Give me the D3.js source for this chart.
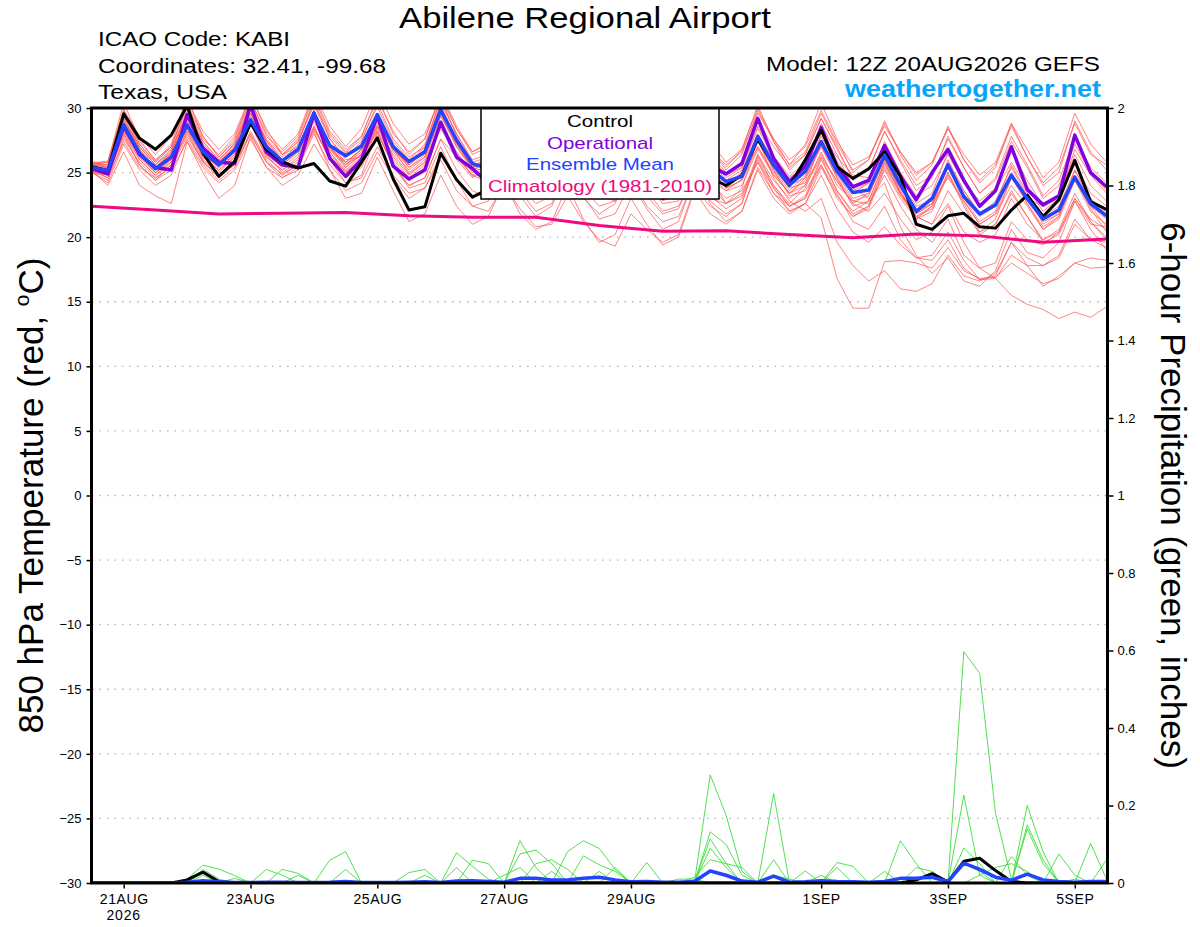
<!DOCTYPE html>
<html>
<head>
<meta charset="utf-8">
<script src="https://cdn.jsdelivr.net/npm/d3@7"></script>
<style>
  body { margin: 0; background: #fff; }
  text { font-family: "Liberation Sans", Arial, Helvetica, sans-serif; }
</style>
</head>
<body>
<div class="chart"></div>
<script>
// run start and 6-hourly steps (65 points = 16 days)
const runStart = "2026-08-20T12";
const stepHours = 6;

// x axis ticks
const tickDates = ["2026-08-21", "2026-08-23", "2026-08-25", "2026-08-27", "2026-08-29", "2026-09-01", "2026-09-03", "2026-09-05"];
const tickLabels = ["21AUG", "23AUG", "25AUG", "27AUG", "29AUG", "1SEP", "3SEP", "5SEP"];
const tempTicks = [-30, -25, -20, -15, -10, -5, 0, 5, 10, 15, 20, 25, 30];
const precipTicks = [0, 0.2, 0.4, 0.6, 0.8, 1, 1.2, 1.4, 1.6, 1.8, 2];

// 850 hPa temperature (C)
const controlTemp = [25.45,25.15,29.55,27.65, 26.8,27.9,30.2,26.5, 24.7,25.85,28.85,26.8, 25.85,25.35,25.7,24.35,
  23.95,25.8,27.7,24.5, 22.1,22.35,26.5,24.45, 23.1,23.7,26.5,24.8, 23.8,24.3,26.8,25.2,
  24.0,24.2,26.3,24.5, 23.0,23.6,26.0,24.6, 24.0,24.8,27.6,25.6, 24.0,26.0,28.3,25.45,
  24.55,25.3,26.6,24.7, 21.0,20.6,21.65,21.85, 20.8,20.7,22.1,23.25, 21.6,22.9,25.95,22.75, 22.15];
const operationalTemp = [25.3,24.9,28.6,26.4, 25.4,25.2,29.5,26.9, 25.8,25.7,30.3,26.6, 25.6,25.4,29.6,26.1,
  24.7,26.0,29.4,25.5, 24.5,25.2,28.9,26.2, 25.3,24.2,27.5,25.8, 24.8,25.3,27.8,26.5,
  25.0,25.2,27.4,25.9, 24.5,24.8,27.0,25.5, 24.9,25.7,29.2,26.1, 24.3,25.5,28.5,25.5,
  23.9,24.4,27.1,24.7, 22.9,25.0,26.8,24.4, 22.4,23.6,27.0,23.7, 22.5,23.2,27.9,25.0, 23.9];
const meanTemp = [25.4,25.15,28.7,26.5, 25.3,26.2,28.7,26.6, 25.6,26.75,29.1,27.0, 25.9,26.8,29.6,27.1,
  26.3,27.05,29.5,27.0, 25.85,26.6,29.85,27.5, 25.7,25.3,27.9,26.3, 25.0,25.6,27.9,26.4,
  25.1,25.4,27.6,26.0, 24.6,25.0,27.2,25.3, 24.3,24.7,27.8,25.6, 24.05,25.1,27.4,25.1,
  23.45,23.65,26.35,24.05, 22.0,23.0,25.6,23.15, 21.8,22.5,24.8,23.0, 21.4,22.1,24.65,22.6, 21.65];
// climatology, one value per day (12Z)
const climTemp = [22.4, 22.1, 21.8, 21.85, 21.9, 21.65, 21.55, 21.55, 20.9, 20.45, 20.5, 20.2, 19.95, 20.25, 20.1, 19.6, 19.85];

const memberTemps = [
  [25.8,25.6,29.4,27.0, 25.6,26.8,29.6,27.2, 25.9,27.3,30.2,27.5, 26.2,27.4,30.4,27.8, 26.5,27.6,30.1,27.4, 26.0,27.2,30.6,28.0, 25.8,26.2,28.6,26.9, 25.5,26.3,28.8,27.0, 25.6,26.0,28.3,26.6, 25.0,25.5,28.0,26.2, 24.8,25.4,28.6,26.3, 24.7,25.8,28.2,25.9, 24.0,24.5,27.2,25.0, 23.2,24.0,26.4,24.2, 22.5,23.6,25.8,23.8, 22.0,23.0,25.6,23.4, 22.4],
  [25.0,24.4,27.6,25.8, 24.6,25.4,27.8,25.9, 24.8,25.6,28.0,25.8, 24.9,25.6,28.4,26.2, 25.1,26.0,28.6,26.4, 24.9,25.8,28.4,26.5, 24.7,25.2,27.4,25.5, 24.0,24.6,27.0,25.2, 23.8,24.4,26.8,25.0, 23.5,24.0,26.5,24.8, 23.6,24.5,27.4,25.3, 23.8,24.2,26.4,24.3, 22.6,23.4,26.0,23.8, 22.0,22.6,24.6,22.8, 21.0,21.8,24.0,22.4, 20.6,21.4,24.4,22.0, 21.0],
  [25.6,25.8,30.4,27.6, 25.9,27.2,30.8,27.8, 26.2,27.6,31.0,28.2, 26.8,28.0,31.2,28.6, 27.0,28.4,31.4,28.8, 27.2,28.0,30.8,28.4, 26.6,27.4,29.8,27.6, 26.0,27.0,29.6,27.4, 25.8,26.8,29.4,27.0, 25.6,26.4,29.2,26.8, 25.4,26.8,30.2,27.4, 25.6,27.2,30.4,27.6, 25.0,26.0,29.0,26.4, 24.4,25.6,28.6,26.0, 24.2,25.4,28.8,26.2, 24.0,25.0,29.0,26.6, 25.2],
  [25.2,24.0,26.6,24.0, 23.2,22.6,27.4,25.0, 23.0,24.0,27.8,25.4, 24.6,25.2,28.6,26.0, 24.2,24.8,28.2,25.6, 23.8,24.2,27.0,24.4, 22.4,22.8,25.2,23.2, 21.6,22.4,25.0,23.0, 21.8,22.6,25.6,23.6, 22.0,22.4,24.8,22.6, 21.2,22.0,25.4,23.4, 22.4,23.0,26.0,23.6, 21.8,22.4,25.4,23.2, 21.6,22.2,24.8,22.6, 20.4,21.0,23.4,21.6, 19.6,20.2,22.8,20.6, 19.0],
  [25.4,25.0,28.6,26.4, 25.2,26.0,28.8,26.4, 25.4,26.6,29.2,26.8, 25.8,26.8,29.6,27.0, 25.6,26.4,29.0,26.8, 25.0,26.0,29.4,27.0, 25.2,25.8,28.2,26.2, 24.8,25.4,27.8,26.0, 24.6,25.0,27.4,25.6, 24.0,24.4,26.6,24.2, 23.0,23.6,25.8,23.4, 22.0,22.6,21.5,16.8, 14.5,14.5,18.1,18.2, 18.0,17.6,19.2,17.4, 16.8,16.9,18.0,17.2, 16.4,16.8,18.0,17.6, 17.7],
  [25.6,25.4,29.0,26.8, 25.4,26.4,29.2,26.8, 25.6,26.8,29.6,27.2, 26.0,27.0,29.8,27.2, 25.8,26.8,29.4,27.0, 25.4,26.4,29.8,27.4, 25.6,26.0,28.4,26.4, 25.0,25.6,28.0,26.2, 24.8,25.2,27.6,25.8, 24.2,24.8,27.2,25.4, 23.8,24.4,27.0,25.0, 23.4,24.0,26.2,24.4, 22.6,22.0,23.4,21.4, 19.8,20.4,22.4,19.6, 17.6,16.8,15.5,14.8, 14.4,13.7,14.2,13.8, 14.6],
  [25.0,24.8,28.0,25.6, 24.4,25.6,28.2,25.8, 24.8,26.0,28.8,26.2, 25.2,26.2,29.0,26.4, 25.0,26.0,28.6,26.0, 24.6,25.6,28.8,26.2, 24.8,25.4,27.8,25.8, 24.2,24.8,27.2,25.4, 23.8,24.6,27.0,25.0, 23.4,24.0,26.4,24.6, 22.6,23.4,25.8,23.8, 22.0,22.6,24.8,22.2, 20.4,19.6,20.8,19.4, 18.4,18.6,20.4,18.2, 16.7,17.0,19.6,17.8, 16.2,17.0,18.0,18.4, 18.2],
  [25.8,25.8,29.8,27.4, 26.0,27.0,30.2,27.6, 26.4,27.8,30.6,28.0, 26.4,27.6,30.8,28.0, 26.6,27.8,30.8,28.2, 26.4,27.6,31.0,28.4, 26.4,27.0,29.4,27.4, 26.0,26.8,29.4,27.4, 25.8,26.6,29.2,27.2, 25.6,26.6,29.4,27.4, 25.8,26.8,30.0,27.6, 25.6,26.6,29.6,27.2, 25.2,26.0,28.8,26.6, 24.8,25.8,28.4,26.0, 24.4,25.6,28.6,26.2, 24.2,25.4,28.8,26.4, 25.6],
  [25.2,24.6,28.2,26.0, 24.8,25.8,28.4,26.0, 25.0,26.2,29.0,26.4, 25.4,26.4,29.2,26.6, 25.2,26.2,28.8,26.2, 24.8,25.8,29.0,26.6, 25.0,25.6,28.0,26.0, 24.4,25.0,27.6,25.6, 24.0,24.6,27.2,25.4, 23.8,24.4,27.0,25.4, 23.8,24.8,27.6,25.2, 23.2,23.6,25.6,23.0, 21.6,22.2,25.2,23.0, 21.4,22.0,25.0,22.8, 21.0,21.8,24.6,22.6, 20.6,21.6,24.8,22.4, 20.8],
  [25.4,25.2,28.4,26.2, 25.0,26.0,28.6,26.2, 25.2,26.4,29.0,26.4, 25.0,25.8,28.2,25.2, 23.0,23.4,26.2,23.6, 21.2,21.8,24.8,22.4, 21.0,21.6,24.2,21.8, 20.6,21.2,24.0,21.4, 19.6,20.2,23.0,21.0, 19.4,20.0,23.6,21.8, 21.0,22.0,25.2,23.0, 21.8,22.6,25.4,23.2, 21.6,22.4,25.6,23.4, 21.8,22.6,25.4,23.0, 21.2,22.0,25.0,22.6, 20.8,21.6,24.6,22.2, 20.4],
  [25.6,25.2,28.8,26.6, 25.4,26.6,29.4,27.0, 25.8,27.0,29.8,27.2, 25.8,26.8,29.6,27.0, 25.4,26.4,29.4,26.8, 25.6,26.8,30.0,27.2, 25.4,26.0,28.6,26.6, 25.2,25.8,28.4,26.6, 25.0,25.6,28.2,26.4, 24.6,25.4,28.0,26.2, 24.6,25.4,28.4,26.2, 24.2,25.0,27.8,25.6, 23.4,24.2,27.4,25.0, 22.6,23.4,26.6,24.2, 22.8,23.8,26.6,24.4, 22.4,23.2,26.4,24.0, 22.8],
  [25.4,25.0,28.4,26.2, 25.0,25.8,28.6,26.2, 25.2,26.2,28.8,26.2, 25.2,26.0,28.6,26.0, 24.8,25.6,28.4,25.8, 24.4,25.4,28.6,26.0, 24.6,25.2,27.6,25.4, 23.8,24.4,27.0,25.0, 23.4,24.0,26.6,24.6, 22.8,23.4,26.2,24.0, 22.6,23.2,26.4,24.0, 22.4,23.0,25.6,23.4, 21.2,20.6,22.4,19.8, 18.4,18.2,19.8,17.6, 16.7,16.8,18.6,17.8, 17.8,18.4,21.0,19.8, 19.6],
  [25.8,25.4,29.6,27.2, 25.8,27.0,30.4,27.8, 26.2,27.4,30.6,27.8, 26.6,27.8,31.0,28.2, 26.8,27.8,30.8,28.0, 26.6,27.6,31.2,28.6, 26.6,27.2,29.8,27.8, 26.2,27.0,29.8,27.8, 26.0,26.8,29.4,27.2, 25.4,26.2,28.8,26.8, 25.2,26.4,29.8,27.4, 25.2,26.4,29.2,27.0, 24.4,25.2,28.2,25.8, 23.6,24.6,27.8,25.4, 23.4,24.6,27.8,25.6, 23.2,24.4,27.6,25.4, 24.2],
  [25.2,24.8,27.8,25.6, 24.4,25.2,27.4,25.4, 24.2,25.2,27.6,25.4, 24.0,24.8,27.2,25.2, 23.6,24.2,26.6,24.6, 23.0,23.8,26.4,24.4, 23.2,23.8,26.0,24.0, 22.6,23.2,25.6,23.8, 22.4,22.8,25.2,23.2, 21.8,22.2,25.0,23.2, 22.2,23.0,26.0,23.8, 22.4,23.2,26.2,23.6, 22.0,22.8,25.8,23.4, 21.6,21.0,22.6,20.4, 19.6,20.2,23.0,21.0, 19.8,20.6,23.4,21.2, 19.8],
  [25.3,25.0,28.2,26.4, 25.0,26.0,28.4,26.4, 25.4,26.4,28.8,26.8, 25.6,26.6,29.2,26.8, 25.8,26.8,29.2,26.8, 25.4,26.2,29.4,27.2, 25.4,25.0,27.6,26.0, 24.8,25.4,27.8,26.2, 24.8,25.2,27.4,25.8, 24.4,24.8,27.0,25.0, 23.8,24.4,27.4,25.2, 23.6,24.8,27.0,24.8, 23.0,23.4,26.2,23.8, 21.8,22.6,25.4,23.0, 21.6,22.4,24.6,22.8, 21.2,21.8,24.4,22.4, 21.4],
  [25.6,25.4,29.2,26.8, 25.2,26.6,29.8,27.0, 25.8,27.0,30.4,27.4, 26.0,27.2,30.6,27.6, 26.2,27.4,30.4,27.6, 26.2,27.0,30.8,27.8, 25.6,25.8,28.2,26.4, 25.2,26.0,28.6,26.8, 25.4,25.8,28.4,26.4, 24.6,25.2,27.8,25.8, 24.2,24.6,27.0,24.8, 23.4,24.4,27.2,24.6, 22.4,22.8,25.8,23.4, 21.4,22.4,26.0,23.6, 21.8,22.8,25.4,23.2, 21.0,21.8,25.2,22.8, 22.0],
  [25.2,24.8,28.0,26.0, 24.8,25.6,28.0,25.8, 24.6,25.6,28.2,26.0, 24.8,25.6,28.4,26.0, 24.6,25.4,28.0,25.6, 24.0,24.6,27.6,25.2, 23.6,23.0,25.8,23.6, 22.0,22.6,25.2,23.2, 21.4,21.8,24.2,22.2, 20.6,21.2,24.6,22.8, 21.8,22.6,26.2,24.0, 22.6,23.8,26.6,24.0, 22.8,23.2,26.0,23.6, 21.6,22.4,25.0,22.4, 20.2,21.0,23.6,21.6, 19.8,20.4,23.0,21.2, 20.0],
  [25.6,25.6,29.6,27.2, 25.8,27.0,30.0,27.4, 26.0,27.2,30.0,27.2, 25.8,26.8,29.8,27.0, 25.6,26.8,29.6,27.2, 25.8,26.8,30.2,27.6, 25.6,25.6,28.4,26.8, 25.6,26.0,28.4,26.6, 25.2,25.6,28.0,26.2, 24.8,25.4,28.2,26.4, 25.0,25.8,29.0,27.0, 25.4,26.4,29.2,26.8, 24.6,25.2,28.2,26.0, 24.0,24.8,27.6,25.4, 23.4,24.4,27.4,25.4, 23.0,24.0,27.2,25.0, 23.6],
  [25.7,25.9,29.9,27.8, 26.4,27.8,30.6,28.2, 26.8,28.0,31.0,28.4, 26.4,27.0,29.4,26.6, 25.0,25.8,28.6,26.8, 25.6,26.6,29.6,27.4, 25.2,24.6,27.0,25.0, 23.6,24.0,26.4,24.8, 23.2,22.8,24.6,22.4, 21.2,21.6,24.4,23.0, 22.6,23.8,27.6,25.6, 24.6,25.4,28.8,26.4, 23.8,23.0,24.2,20.8, 18.6,17.2,18.4,16.6, 16.2,17.4,20.6,18.8, 18.4,19.6,22.8,21.0, 20.8],
  [25.0,24.2,27.2,25.2, 24.0,24.8,27.6,25.6, 24.4,25.4,28.0,25.8, 24.6,25.4,28.0,25.6, 24.2,24.6,27.0,24.8, 23.4,23.8,26.0,23.6, 22.4,22.0,24.0,22.2, 20.8,21.0,23.2,21.2, 19.8,19.3,21.8,20.6, 19.6,20.2,23.8,22.4, 21.6,22.6,26.4,24.4, 23.0,24.0,27.4,25.0, 23.6,24.2,26.8,24.2, 22.4,22.8,25.8,23.6, 21.8,22.6,25.6,23.4, 21.6,22.4,25.2,23.0, 21.8],
  [25.5,25.3,28.8,26.6, 25.4,26.4,29.0,26.8, 25.6,26.8,29.4,27.0, 25.6,26.6,29.4,26.8, 25.4,26.4,29.2,26.6, 25.2,26.2,29.6,27.0, 25.4,25.6,28.0,26.2, 24.8,25.6,28.4,26.6, 25.0,25.4,27.8,26.0, 24.4,25.0,27.4,25.6, 24.2,25.0,27.6,24.6, 22.8,22.0,23.0,19.6, 17.8,16.6,17.4,16.0, 15.8,16.4,18.6,17.0, 16.6,17.2,19.6,18.4, 17.8,18.6,21.4,19.8, 19.2],
  [25.4,25.4,29.0,27.0, 25.6,26.8,29.6,27.4, 26.0,27.2,29.8,27.4, 26.0,26.8,29.6,27.0, 25.6,26.6,29.4,27.0, 25.8,27.0,30.4,28.0, 26.0,26.4,28.8,27.0, 25.8,26.6,29.0,27.0, 25.6,26.2,28.8,26.8, 25.4,26.0,28.6,26.8, 25.6,26.6,29.6,27.6, 26.0,27.0,29.8,27.4, 25.6,26.2,28.6,26.6, 25.0,25.8,28.4,26.4, 24.8,25.8,28.8,26.8, 24.6,25.8,29.6,27.2, 25.8],
  [25.1,24.6,27.4,25.4, 24.6,25.4,28.2,26.4, 25.6,26.6,29.6,27.6, 26.4,27.4,30.2,27.6, 26.0,26.2,28.2,25.4, 24.0,24.6,27.6,26.2, 24.8,24.2,26.6,24.6, 23.6,24.2,26.8,25.4, 24.4,24.8,26.6,24.2, 22.6,22.8,25.8,24.4, 23.6,24.0,26.8,24.8, 23.4,24.6,28.0,26.2, 24.8,24.6,26.4,23.4, 21.6,21.0,23.6,21.8, 20.4,21.4,24.6,23.0, 22.4,23.0,26.8,24.8, 23.4],
  [25.6,25.6,29.2,27.0, 25.6,26.6,29.4,27.0, 25.6,26.8,29.6,27.2, 25.8,26.8,29.8,27.2, 25.8,26.8,29.6,27.0, 25.6,26.6,30.0,27.4, 25.4,25.8,28.4,26.6, 25.0,25.8,28.4,26.6, 25.2,25.6,28.0,26.2, 24.6,25.2,27.8,26.0, 24.4,25.2,28.0,26.0, 24.0,24.6,27.0,24.6, 22.8,22.6,24.8,22.4, 20.6,19.6,21.4,18.6, 17.6,18.0,21.2,19.8, 19.4,20.4,23.0,21.4, 20.6]
];

// 6-hour precipitation (inches)
const controlPrecip = [0,0,0,0, 0,0,0.008,0.028, 0.004,0,0,0, 0,0,0,0, 0,0,0,0, 0,0,0,0, 0,0,0,0, 0,0,0,0,
  0,0,0,0, 0,0,0,0, 0,0,0,0, 0,0,0,0, 0,0,0,0, 0.008,0.024,0.003,0.056, 0.064,0.032,0.004,0, 0,0,0,0, 0];
const meanPrecip = [0,0,0,0, 0,0,0.002,0.006, 0.003,0.001,0.001,0.002, 0.002,0.001,0.001,0.002, 0.004,0.001,0.001,0.001,
  0.002,0.003,0.001,0.005, 0.006,0.004,0.002,0.012, 0.012,0.008,0.008,0.012, 0.015,0.008,0.003,0.004, 0.002,0.002,0.004,0.031,
  0.02,0.005,0.002,0.018, 0.002,0.003,0.006,0.004, 0.003,0.002,0.004,0.012, 0.012,0.015,0.004,0.051, 0.035,0.015,0.007,0.023,
  0.008,0.004,0.002,0.004, 0.004];
const memberPrecips = [
  [0,0,0,0, 0,0,0.01,0.046, 0.036,0.019,0,0, 0,0,0,0.059, 0.081,0,0,0, 0,0,0,0.078, 0.043,0.01,0,0, 0,0,0,0, 0,0,0,0, 0,0,0,0.279, 0.175,0.03,0,0, 0,0,0,0, 0,0,0,0, 0,0,0,0.597, 0.541,0.18,0.01,0, 0,0,0,0, 0],
  [0,0,0,0, 0,0,0,0.035, 0.01,0,0,0.035, 0.02,0,0,0, 0,0,0,0, 0,0,0,0, 0,0,0,0.109, 0.04,0,0,0, 0,0,0,0, 0,0,0,0.132, 0.1,0.02,0,0.231, 0,0,0,0, 0,0,0,0, 0,0,0,0.227, 0.02,0,0,0.2, 0.08,0,0,0, 0],
  [0,0,0,0, 0,0,0,0, 0,0,0,0, 0.035,0.025,0,0, 0.035,0,0,0, 0.027,0.035,0,0, 0,0,0,0.075, 0.085,0.05,0,0, 0,0,0,0, 0,0,0,0.114, 0.05,0,0,0, 0,0,0,0.053, 0.043,0,0,0, 0,0,0,0, 0,0,0,0.15, 0.06,0,0,0.102, 0.01],
  [0,0,0,0, 0,0,0,0.03, 0,0,0,0, 0,0,0,0, 0,0,0,0, 0,0.02,0,0, 0.059,0.05,0,0, 0,0,0.081,0.109, 0.089,0.035,0,0, 0,0,0,0.09, 0.04,0,0,0, 0,0,0,0, 0,0,0,0.109, 0.05,0,0,0.09, 0.05,0,0,0.14, 0.05,0,0,0, 0],
  [0,0,0,0, 0,0,0,0, 0,0,0,0, 0,0,0,0, 0,0,0,0, 0,0,0,0.04, 0,0,0,0, 0,0.03,0,0.07, 0.047,0.03,0,0.053, 0,0,0,0, 0,0,0,0.06, 0,0.031,0,0, 0,0,0.03,0, 0,0,0,0, 0,0,0.068,0.02, 0,0.075,0.02,0, 0],
  [0,0,0,0, 0,0,0,0, 0,0.012,0,0, 0,0.02,0,0, 0,0,0,0, 0,0,0,0, 0,0,0,0, 0.05,0.06,0.035,0, 0,0.04,0,0, 0,0,0.015,0.06, 0.05,0.04,0,0, 0,0,0,0.04, 0,0,0,0, 0.04,0.03,0,0, 0.02,0.04,0.05,0.03, 0,0,0,0, 0.06],
  [0,0,0,0, 0,0,0,0.02, 0,0,0,0, 0,0,0,0, 0,0,0,0, 0,0,0,0, 0,0,0.02,0.04, 0,0,0,0, 0.03,0,0,0, 0,0.01,0.01,0, 0,0,0,0.02, 0.01,0,0.02,0, 0,0,0,0, 0,0,0.01,0.05, 0.03,0,0,0, 0,0,0.01,0, 0]
];

// colours
const memberRed = "#ff5555";
const memberGreen = "#3ddc3d";
const controlColor = "#000000";
const operationalColor = "#8000e0";
const meanColor = "#2244ff";
const climColor = "#ee0a80";

const width = 1200, height = 927;
const plotLeft = 92, plotRight = 1107, plotTop = 108, plotBottom = 883;

const parseHour = d3.utcParse("%Y-%m-%dT%H");
const parseDay = d3.utcParse("%Y-%m-%d");
const t0 = parseHour(runStart);
const timeAt = (i) => d3.utcHour.offset(t0, i * stepHours);

const xScale = d3.scaleUtc()
  .domain([t0, timeAt(64)])
  .range([plotLeft, plotRight - 0.5]);
const yTemp = d3.scaleLinear().domain([-30, 30]).range([plotBottom, plotTop]);
const yPrecip = d3.scaleLinear().domain([0, 2]).range([plotBottom, plotTop]);

const svg = d3.select(".chart").append("svg")
  .attr("width", width)
  .attr("height", height)
  .style("background", "#fff");

svg.append("clipPath").attr("id", "plotClip")
  .append("rect")
  .attr("x", plotLeft).attr("y", plotTop)
  .attr("width", plotRight - plotLeft).attr("height", plotBottom - plotTop);

// dotted grid lines on the temperature ticks
svg.append("g")
  .selectAll("line")
  .data(tempTicks.filter(d => d > -30 && d < 30))
  .join("line")
  .attr("x1", plotLeft).attr("x2", plotRight)
  .attr("y1", d => yTemp(d)).attr("y2", d => yTemp(d))
  .attr("stroke", "#b4b4b4")
  .attr("stroke-width", 1.3)
  .attr("stroke-dasharray", "1.5,6");

const plot = svg.append("g").attr("clip-path", "url(#plotClip)");

const tempLine = d3.line().x((d, i) => xScale(timeAt(i))).y(d => yTemp(d));
const precipLine = d3.line().x((d, i) => xScale(timeAt(i))).y(d => yPrecip(d));
const climLine = d3.line().x((d, i) => xScale(timeAt(i * 4))).y(d => yTemp(d));

// ensemble members
plot.append("g").selectAll("path")
  .data(memberTemps)
  .join("path")
  .attr("d", tempLine)
  .attr("fill", "none")
  .attr("stroke", memberRed)
  .attr("stroke-opacity", 0.8)
  .attr("stroke-width", 0.9);

plot.append("g").selectAll("path")
  .data(memberPrecips)
  .join("path")
  .attr("d", precipLine)
  .attr("fill", "none")
  .attr("stroke", memberGreen)
  .attr("stroke-width", 0.9);

plot.append("path")
  .datum(climTemp)
  .attr("d", climLine)
  .attr("fill", "none")
  .attr("stroke", climColor)
  .attr("stroke-width", 3);

plot.append("path")
  .datum(operationalTemp)
  .attr("d", tempLine)
  .attr("fill", "none")
  .attr("stroke", operationalColor)
  .attr("stroke-width", 3.5)
  .attr("stroke-linejoin", "round");

plot.append("path")
  .datum(controlTemp)
  .attr("d", tempLine)
  .attr("fill", "none")
  .attr("stroke", controlColor)
  .attr("stroke-width", 3)
  .attr("stroke-linejoin", "round");

plot.append("path")
  .datum(meanTemp)
  .attr("d", tempLine)
  .attr("fill", "none")
  .attr("stroke", meanColor)
  .attr("stroke-width", 3.5)
  .attr("stroke-linejoin", "round");

plot.append("path")
  .datum(controlPrecip)
  .attr("d", precipLine)
  .attr("fill", "none")
  .attr("stroke", controlColor)
  .attr("stroke-width", 3)
  .attr("stroke-linejoin", "round");

plot.append("path")
  .datum(meanPrecip)
  .attr("d", precipLine)
  .attr("fill", "none")
  .attr("stroke", meanColor)
  .attr("stroke-width", 3.5)
  .attr("stroke-linejoin", "round");

// legend box
const legendItems = ["Control", "Operational", "Ensemble Mean", "Climatology (1981-2010)"];
const legendColors = [controlColor, operationalColor, meanColor, climColor];
const legendWidths = [66, 106, 148, 224];
const legend = svg.append("g");
legend.append("rect")
  .attr("x", 481).attr("y", plotTop)
  .attr("width", 238).attr("height", 91)
  .attr("fill", "#fff")
  .attr("stroke", "#000")
  .attr("stroke-width", 1.5);
legend.selectAll("text")
  .data(legendItems)
  .join("text")
  .attr("x", 600)
  .attr("y", (d, i) => 127 + i * 21.5)
  .attr("text-anchor", "middle")
  .attr("font-size", 17)
  .attr("textLength", (d, i) => legendWidths[i])
  .attr("lengthAdjust", "spacingAndGlyphs")
  .attr("fill", (d, i) => legendColors[i])
  .text(d => d);

// frame
svg.append("rect")
  .attr("x", plotLeft - 0.5).attr("y", plotTop)
  .attr("width", plotRight - plotLeft + 1).attr("height", plotBottom - plotTop)
  .attr("fill", "none")
  .attr("stroke", "#000")
  .attr("stroke-width", 3);

// axes
const leftAxis = svg.append("g")
  .attr("transform", `translate(${plotLeft - 1.5},0)`)
  .call(d3.axisLeft(yTemp).tickValues(tempTicks).tickSize(4).tickPadding(5).tickFormat(d3.format("d")));
const rightAxis = svg.append("g")
  .attr("transform", `translate(${plotRight + 1.5},0)`)
  .call(d3.axisRight(yPrecip).tickValues(precipTicks).tickSize(5).tickPadding(4).tickFormat(d3.format("~g")));
const bottomAxis = svg.append("g")
  .attr("transform", `translate(0,${plotBottom + 1.5})`)
  .call(d3.axisBottom(xScale)
    .tickValues(tickDates.map(parseDay))
    .tickSize(4).tickPadding(6)
    .tickFormat((d, i) => tickLabels[i]));

[leftAxis, rightAxis, bottomAxis].forEach(g => {
  g.select(".domain").remove();
  g.selectAll(".tick line").attr("stroke", "#000").attr("stroke-width", 1.5);
  g.selectAll(".tick text")
    .attr("fill", "#000")
    .style("font-family", '"Liberation Sans", Arial, sans-serif')
    .style("font-size", "13px");
});
bottomAxis.selectAll(".tick text").style("font-size", "14px").attr("letter-spacing", 0.6);

svg.append("text")
  .attr("x", xScale(parseDay(tickDates[0])))
  .attr("y", 920)
  .attr("text-anchor", "middle")
  .attr("font-size", 14)
  .attr("letter-spacing", 0.8)
  .text("2026");

// titles and header text
svg.append("text")
  .attr("x", 585).attr("y", 28)
  .attr("text-anchor", "middle")
  .attr("font-size", 30)
  .attr("textLength", 372).attr("lengthAdjust", "spacingAndGlyphs")
  .text("Abilene Regional Airport");

const infoLines = ["ICAO Code: KABI", "Coordinates: 32.41, -99.68", "Texas, USA"];
const infoWidths = [192, 288, 129];
svg.append("g").selectAll("text")
  .data(infoLines)
  .join("text")
  .attr("x", 98)
  .attr("y", (d, i) => 46 + i * 26.5)
  .attr("font-size", 20)
  .attr("textLength", (d, i) => infoWidths[i]).attr("lengthAdjust", "spacingAndGlyphs")
  .text(d => d);

svg.append("text")
  .attr("x", 1100).attr("y", 71)
  .attr("text-anchor", "end")
  .attr("font-size", 21)
  .attr("textLength", 334).attr("lengthAdjust", "spacingAndGlyphs")
  .text("Model: 12Z 20AUG2026 GEFS");

svg.append("text")
  .attr("x", 1101).attr("y", 97)
  .attr("text-anchor", "end")
  .attr("font-size", 23)
  .attr("font-weight", "bold")
  .attr("fill", "#08a4f8")
  .attr("textLength", 256).attr("lengthAdjust", "spacingAndGlyphs")
  .text("weathertogether.net");

// axis titles
const yTitle = svg.append("text")
  .attr("transform", `translate(43,${(plotTop + plotBottom) / 2}) rotate(-90)`)
  .attr("text-anchor", "middle")
  .attr("font-size", 35);
yTitle.append("tspan").text("850 hPa Temperature (red, ");
yTitle.append("tspan").attr("font-size", 21).attr("dy", -14).text("o");
yTitle.append("tspan").attr("dy", 14).text("C)");

svg.append("text")
  .attr("transform", `translate(1161,${(plotTop + plotBottom) / 2}) rotate(90)`)
  .attr("text-anchor", "middle")
  .attr("font-size", 35)
  .text("6-hour Precipitation (green, inches)");
</script>
</body>
</html>
